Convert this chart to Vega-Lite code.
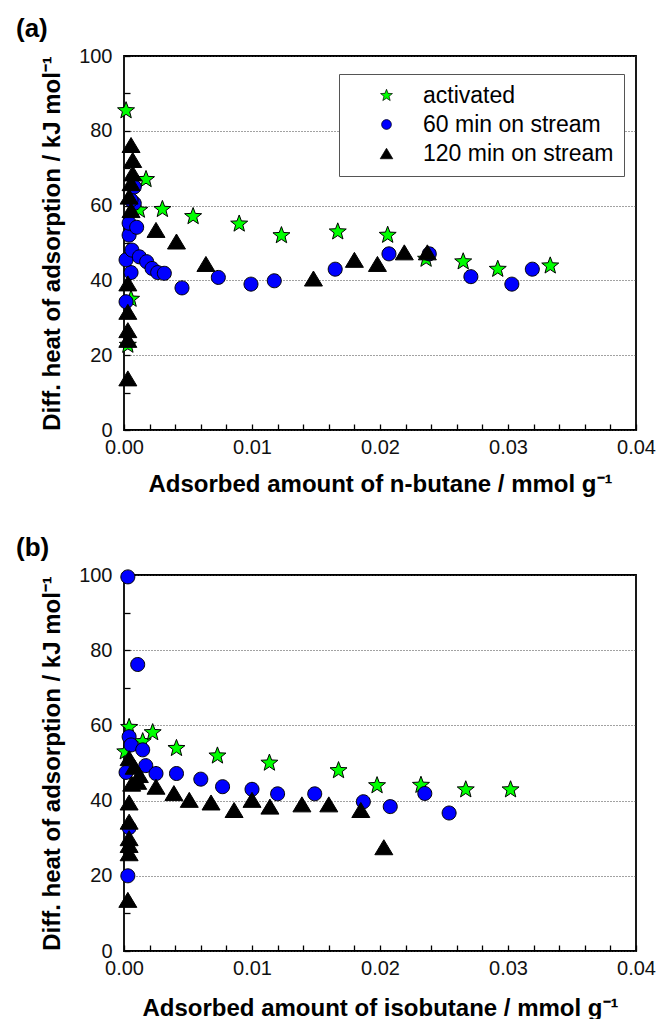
{
  "$schema": "https://vega.github.io/schema/vega-lite/v6.json",
  "padding": {"left": 15, "top": 15, "right": 5, "bottom": 0},
  "spacing": 37,
  "datasets": {
    "a": [
      {"amount": 0.00016, "heat": 85.4, "sample": "activated"},
      {"amount": 0.0003, "heat": 22.7, "sample": "activated"},
      {"amount": 0.00055, "heat": 35.0, "sample": "activated"},
      {"amount": 0.0012, "heat": 58.8, "sample": "activated"},
      {"amount": 0.00172, "heat": 67.0, "sample": "activated"},
      {"amount": 0.0030, "heat": 59.0, "sample": "activated"},
      {"amount": 0.0054, "heat": 57.1, "sample": "activated"},
      {"amount": 0.0090, "heat": 55.1, "sample": "activated"},
      {"amount": 0.0123, "heat": 52.0, "sample": "activated"},
      {"amount": 0.0167, "heat": 53.0, "sample": "activated"},
      {"amount": 0.0206, "heat": 52.1, "sample": "activated"},
      {"amount": 0.0236, "heat": 45.7, "sample": "activated"},
      {"amount": 0.0265, "heat": 45.0, "sample": "activated"},
      {"amount": 0.0292, "heat": 43.0, "sample": "activated"},
      {"amount": 0.0333, "heat": 43.9, "sample": "activated"},
      {"amount": 0.00016, "heat": 34.3, "sample": "60 min on stream"},
      {"amount": 0.00055, "heat": 42.1, "sample": "60 min on stream"},
      {"amount": 0.00016, "heat": 45.5, "sample": "60 min on stream"},
      {"amount": 0.0004, "heat": 52.1, "sample": "60 min on stream"},
      {"amount": 0.0004, "heat": 55.3, "sample": "60 min on stream"},
      {"amount": 0.00062, "heat": 48.1, "sample": "60 min on stream"},
      {"amount": 0.00099, "heat": 54.2, "sample": "60 min on stream"},
      {"amount": 0.0008, "heat": 60.6, "sample": "60 min on stream"},
      {"amount": 0.00055, "heat": 61.5, "sample": "60 min on stream"},
      {"amount": 0.0008, "heat": 65.0, "sample": "60 min on stream"},
      {"amount": 0.0012, "heat": 46.3, "sample": "60 min on stream"},
      {"amount": 0.00177, "heat": 45.0, "sample": "60 min on stream"},
      {"amount": 0.00219, "heat": 43.2, "sample": "60 min on stream"},
      {"amount": 0.00263, "heat": 42.1, "sample": "60 min on stream"},
      {"amount": 0.00315, "heat": 41.9, "sample": "60 min on stream"},
      {"amount": 0.00453, "heat": 38.0, "sample": "60 min on stream"},
      {"amount": 0.00737, "heat": 40.8, "sample": "60 min on stream"},
      {"amount": 0.00992, "heat": 39.0, "sample": "60 min on stream"},
      {"amount": 0.01174, "heat": 39.9, "sample": "60 min on stream"},
      {"amount": 0.0165, "heat": 43.0, "sample": "60 min on stream"},
      {"amount": 0.0207, "heat": 47.1, "sample": "60 min on stream"},
      {"amount": 0.02385, "heat": 47.1, "sample": "60 min on stream"},
      {"amount": 0.0271, "heat": 41.0, "sample": "60 min on stream"},
      {"amount": 0.0303, "heat": 39.0, "sample": "60 min on stream"},
      {"amount": 0.0319, "heat": 43.0, "sample": "60 min on stream"},
      {"amount": 0.00055, "heat": 76.2, "sample": "120 min on stream"},
      {"amount": 0.00068, "heat": 72.2, "sample": "120 min on stream"},
      {"amount": 0.00068, "heat": 68.6, "sample": "120 min on stream"},
      {"amount": 0.00055, "heat": 66.0, "sample": "120 min on stream"},
      {"amount": 0.0004, "heat": 62.4, "sample": "120 min on stream"},
      {"amount": 0.00055, "heat": 58.8, "sample": "120 min on stream"},
      {"amount": 0.0025, "heat": 53.5, "sample": "120 min on stream"},
      {"amount": 0.0041, "heat": 50.4, "sample": "120 min on stream"},
      {"amount": 0.0064, "heat": 44.4, "sample": "120 min on stream"},
      {"amount": 0.0148, "heat": 40.5, "sample": "120 min on stream"},
      {"amount": 0.0180, "heat": 45.5, "sample": "120 min on stream"},
      {"amount": 0.0198, "heat": 44.4, "sample": "120 min on stream"},
      {"amount": 0.0219, "heat": 47.5, "sample": "120 min on stream"},
      {"amount": 0.0237, "heat": 47.5, "sample": "120 min on stream"},
      {"amount": 0.0003, "heat": 39.2, "sample": "120 min on stream"},
      {"amount": 0.0003, "heat": 31.6, "sample": "120 min on stream"},
      {"amount": 0.0003, "heat": 26.7, "sample": "120 min on stream"},
      {"amount": 0.0003, "heat": 24.1, "sample": "120 min on stream"},
      {"amount": 0.0003, "heat": 13.8, "sample": "120 min on stream"}
    ],
    "b": [
      {"amount": 0.0001, "heat": 53.0, "sample": "activated"},
      {"amount": 0.0004, "heat": 59.5, "sample": "activated"},
      {"amount": 0.00146, "heat": 55.7, "sample": "activated"},
      {"amount": 0.00224, "heat": 58.1, "sample": "activated"},
      {"amount": 0.0041, "heat": 53.9, "sample": "activated"},
      {"amount": 0.0073, "heat": 51.9, "sample": "activated"},
      {"amount": 0.01136, "heat": 50.0, "sample": "activated"},
      {"amount": 0.01676, "heat": 48.0, "sample": "activated"},
      {"amount": 0.01977, "heat": 44.0, "sample": "activated"},
      {"amount": 0.0232, "heat": 44.1, "sample": "activated"},
      {"amount": 0.0267, "heat": 42.9, "sample": "activated"},
      {"amount": 0.0302, "heat": 42.9, "sample": "activated"},
      {"amount": 0.0003, "heat": 99.5, "sample": "60 min on stream"},
      {"amount": 0.00107, "heat": 76.2, "sample": "60 min on stream"},
      {"amount": 0.0004, "heat": 57.0, "sample": "60 min on stream"},
      {"amount": 0.00055, "heat": 54.8, "sample": "60 min on stream"},
      {"amount": 0.00146, "heat": 53.5, "sample": "60 min on stream"},
      {"amount": 0.00016, "heat": 47.5, "sample": "60 min on stream"},
      {"amount": 0.0017, "heat": 49.3, "sample": "60 min on stream"},
      {"amount": 0.0025, "heat": 47.2, "sample": "60 min on stream"},
      {"amount": 0.0041, "heat": 47.2, "sample": "60 min on stream"},
      {"amount": 0.0060, "heat": 45.7, "sample": "60 min on stream"},
      {"amount": 0.0077, "heat": 43.7, "sample": "60 min on stream"},
      {"amount": 0.0100, "heat": 43.0, "sample": "60 min on stream"},
      {"amount": 0.0120, "heat": 41.8, "sample": "60 min on stream"},
      {"amount": 0.0149, "heat": 41.8, "sample": "60 min on stream"},
      {"amount": 0.0187, "heat": 39.7, "sample": "60 min on stream"},
      {"amount": 0.0208, "heat": 38.4, "sample": "60 min on stream"},
      {"amount": 0.0235, "heat": 41.9, "sample": "60 min on stream"},
      {"amount": 0.0254, "heat": 36.7, "sample": "60 min on stream"},
      {"amount": 0.0004, "heat": 32.8, "sample": "60 min on stream"},
      {"amount": 0.0003, "heat": 20.0, "sample": "60 min on stream"},
      {"amount": 0.0004, "heat": 51.3, "sample": "120 min on stream"},
      {"amount": 0.0008, "heat": 49.0, "sample": "120 min on stream"},
      {"amount": 0.0012, "heat": 46.8, "sample": "120 min on stream"},
      {"amount": 0.0006, "heat": 44.5, "sample": "120 min on stream"},
      {"amount": 0.00107, "heat": 45.0, "sample": "120 min on stream"},
      {"amount": 0.0025, "heat": 43.7, "sample": "120 min on stream"},
      {"amount": 0.0039, "heat": 42.0, "sample": "120 min on stream"},
      {"amount": 0.0051, "heat": 40.2, "sample": "120 min on stream"},
      {"amount": 0.0068, "heat": 39.5, "sample": "120 min on stream"},
      {"amount": 0.0086, "heat": 37.5, "sample": "120 min on stream"},
      {"amount": 0.0100, "heat": 40.2, "sample": "120 min on stream"},
      {"amount": 0.0114, "heat": 38.4, "sample": "120 min on stream"},
      {"amount": 0.0139, "heat": 39.0, "sample": "120 min on stream"},
      {"amount": 0.0160, "heat": 39.0, "sample": "120 min on stream"},
      {"amount": 0.0185, "heat": 37.5, "sample": "120 min on stream"},
      {"amount": 0.0203, "heat": 27.6, "sample": "120 min on stream"},
      {"amount": 0.0004, "heat": 39.5, "sample": "120 min on stream"},
      {"amount": 0.0004, "heat": 34.4, "sample": "120 min on stream"},
      {"amount": 0.0004, "heat": 30.0, "sample": "120 min on stream"},
      {"amount": 0.0004, "heat": 28.2, "sample": "120 min on stream"},
      {"amount": 0.0004, "heat": 26.0, "sample": "120 min on stream"},
      {"amount": 0.0003, "heat": 13.6, "sample": "120 min on stream"}
    ]
  },
  "config": {
    "font": "Liberation Sans",
    "view": {"stroke": "#000", "strokeWidth": 1.8},
    "axis": {
      "labelFont": "Liberation Sans", "labelFontSize": 20, "labelColor": "#111",
      "titleFont": "Liberation Sans", "titleFontSize": 24, "titleFontWeight": "bold", "titleColor": "#000",
      "domain": false, "ticks": true, "tickSize": -6, "tickColor": "#000", "tickWidth": 1.3
    },
    "legend": {
      "orient": "none", "legendX": 215, "legendY": 18,
      "fillColor": "#ffffff", "strokeColor": "#555555", "padding": 10,
      "labelFont": "Liberation Sans", "labelFontSize": 23, "labelColor": "#000", "labelLimit": 400,
      "symbolSize": 49, "symbolOffset": 26, "labelOffset": 25, "rowPadding": 5,
      "symbolStrokeColor": "#000", "symbolStrokeWidth": 0.7
    },
    "title": {
      "anchor": "start", "frame": "group", "fontSize": 26, "fontWeight": "bold",
      "font": "Liberation Sans", "color": "#000", "dx": -108, "offset": 4
    }
  },
  "vconcat": [
    {
      "title": {"text": "(a)"},
      "width": 512, "height": 374,
      "data": {"name": "a"},
      "mark": {"type": "point", "filled": true, "stroke": "#000", "strokeWidth": 1, "opacity": 1, "size": 100},
      "encoding": {
        "x": {"field": "amount", "type": "quantitative", "scale": {"domain": [0, 0.04], "nice": false, "zero": false},
          "axis": {"orient": "bottom", "values": [0, 0.002, 0.004, 0.006, 0.008, 0.01, 0.012, 0.014, 0.016, 0.018, 0.02, 0.022, 0.024, 0.026, 0.028, 0.03, 0.032, 0.034, 0.036, 0.038, 0.04], "format": ".2f",
            "labelExpr": "round(datum.value * 500) % 5 == 0 ? datum.label : ''",
            "labelPadding": 13, "labelFlush": false, "ticks": true, "tickSize": -6,
            "grid": false,
            "title": "Adsorbed amount of n-butane / mmol g⁻¹", "titlePadding": 15}},
        "y": {"field": "heat", "type": "quantitative", "scale": {"domain": [0, 100], "nice": false},
          "axis": {"orient": "left", "values": [0, 10, 20, 30, 40, 50, 60, 70, 80, 90, 100],
            "labelExpr": "datum.value % 20 == 0 ? datum.label : ''",
            "labelPadding": 18, "ticks": true, "tickSize": -6,
            "grid": true, "gridColor": "#444", "gridWidth": 1, "gridDash": [1, 2],
            "gridOpacity": {"condition": {"test": "datum.value % 20 == 0", "value": 1}, "value": 0},
            "title": "Diff. heat of adsorption / kJ mol⁻¹", "titlePadding": 14}},
        "color": {"field": "sample", "type": "nominal", "scale": {"domain": ["activated", "60 min on stream", "120 min on stream"], "range": ["#00ff00", "#0000ff", "#000000"]},
          "legend": {"title": null, "labelExpr": "datum.label == 'activated' ? '\u00a0activated' : datum.label", "encode": {"legend": {"update": {"strokeWidth": {"value": 1.5}}}}}},
        "shape": {"field": "sample", "type": "nominal", "scale": {"domain": ["activated", "60 min on stream", "120 min on stream"], "range": ["M0,-1.79L0.44,-0.61L1.70,-0.55L0.72,0.23L1.05,1.45L0,0.75L-1.05,1.45L-0.72,0.23L-1.70,-0.55L-0.44,-0.61Z", "M-1.4,0A1.4,1.4,0,1,1,1.4,0A1.4,1.4,0,1,1,-1.4,0Z", "M0,-1.5L1.8,1.5L-1.8,1.5Z"]},
          "legend": {"title": null, "labelExpr": "datum.label == 'activated' ? '\u00a0activated' : datum.label"}}
      }
    },
    {
      "title": {"text": "(b)"},
      "width": 512, "height": 376,
      "data": {"name": "b"},
      "mark": {"type": "point", "filled": true, "stroke": "#000", "strokeWidth": 1, "opacity": 1, "size": 100},
      "encoding": {
        "x": {"field": "amount", "type": "quantitative", "scale": {"domain": [0, 0.04], "nice": false, "zero": false},
          "axis": {"orient": "bottom", "values": [0, 0.002, 0.004, 0.006, 0.008, 0.01, 0.012, 0.014, 0.016, 0.018, 0.02, 0.022, 0.024, 0.026, 0.028, 0.03, 0.032, 0.034, 0.036, 0.038, 0.04], "format": ".2f",
            "labelExpr": "round(datum.value * 500) % 5 == 0 ? datum.label : ''",
            "labelPadding": 13, "labelFlush": false, "ticks": true, "tickSize": -6,
            "grid": false,
            "title": "Adsorbed amount of isobutane / mmol g⁻¹", "titlePadding": 18}},
        "y": {"field": "heat", "type": "quantitative", "scale": {"domain": [0, 100], "nice": false},
          "axis": {"orient": "left", "values": [0, 10, 20, 30, 40, 50, 60, 70, 80, 90, 100],
            "labelExpr": "datum.value % 20 == 0 ? datum.label : ''",
            "labelPadding": 18, "ticks": true, "tickSize": -6,
            "grid": true, "gridColor": "#444", "gridWidth": 1, "gridDash": [1, 2],
            "gridOpacity": {"condition": {"test": "datum.value % 20 == 0", "value": 1}, "value": 0},
            "title": "Diff. heat of adsorption / kJ mol⁻¹", "titlePadding": 14}},
        "color": {"field": "sample", "type": "nominal", "scale": {"domain": ["activated", "60 min on stream", "120 min on stream"], "range": ["#00ff00", "#0000ff", "#000000"]},
          "legend": {"title": null, "labelExpr": "datum.label == 'activated' ? '\u00a0activated' : datum.label", "encode": {"legend": {"update": {"strokeWidth": {"value": 1.5}}}}}},
        "shape": {"field": "sample", "type": "nominal", "scale": {"domain": ["activated", "60 min on stream", "120 min on stream"], "range": ["M0,-1.79L0.44,-0.61L1.70,-0.55L0.72,0.23L1.05,1.45L0,0.75L-1.05,1.45L-0.72,0.23L-1.70,-0.55L-0.44,-0.61Z", "M-1.4,0A1.4,1.4,0,1,1,1.4,0A1.4,1.4,0,1,1,-1.4,0Z", "M0,-1.5L1.8,1.5L-1.8,1.5Z"]},
          "legend": {"title": null, "labelExpr": "datum.label == 'activated' ? '\u00a0activated' : datum.label"}}
      }
    }
  ]
}
